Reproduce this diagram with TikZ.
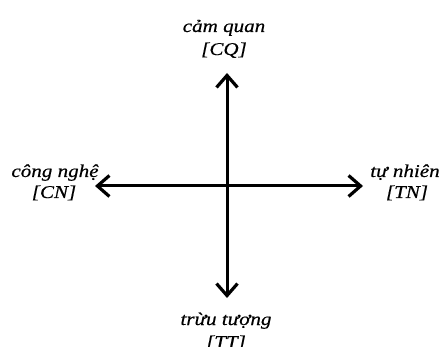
\documentclass[tikz,border=0pt]{standalone}
\usepackage{fontspec}
\setmainfont[FakeStretch=1.17,FakeBold=0.4]{Liberation Serif}
\usetikzlibrary{arrows.meta}
\begin{document}
\begin{tikzpicture}[x=1pt,y=-1pt,
  lbl/.style={anchor=base,inner sep=0pt,font=\fontsize{18}{22}\selectfont\itshape},
  axis/.style={line width=3pt,-{Straight Barb[length=12pt,width=21pt,line width=3.2pt]}}]
\useasboundingbox (0,0) rectangle (441,347);
\coordinate (O) at (227,186);
\coordinate (U) at (227,73);
\coordinate (D) at (227,298);
\coordinate (L) at (95,186);
\coordinate (R) at (363,186);
\draw[axis] (O) -- (U);
\draw[axis] (O) -- (D);
\draw[axis] (O) -- (L);
\draw[axis] (O) -- (R);
\node[lbl] (cq1) at (224,32) {cảm quan};
\node[lbl] (cq2) at (224,55) {[CQ]};
\node[lbl] (cn1) at (55,177) {công nghệ};
\node[lbl] (cn2) at (54,198) {[CN]};
\node[lbl] (tn1) at (405,177) {tự nhiên};
\node[lbl] (tn2) at (407,198) {[TN]};
\node[lbl] (tt1) at (226,325) {trừu tượng};
\node[lbl] (tt2) at (226,348) {[TT]};
\end{tikzpicture}
\end{document}
